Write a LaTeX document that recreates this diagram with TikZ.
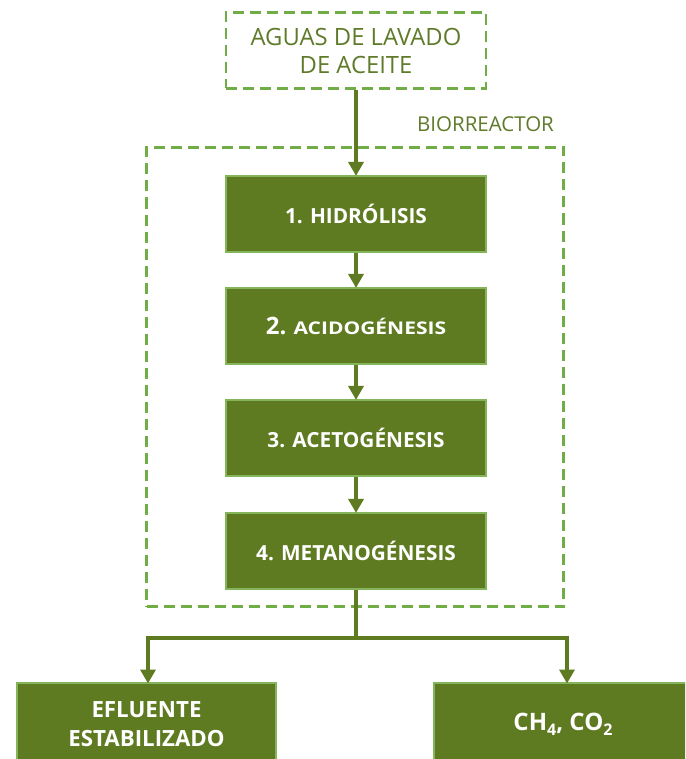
\documentclass[tikz,border=0pt]{standalone}
\usepackage{fontspec}
\setmainfont{Open Sans}
\usetikzlibrary{arrows.meta}
\definecolor{olive}{HTML}{5F7B22}
\definecolor{leaf}{HTML}{70AD47}
\definecolor{rim}{HTML}{84B55A}
\definecolor{ink}{HTML}{5F7B2A}
\tikzset{
  x=1pt, y=-1pt,
  outline/.style={draw=leaf, line width=2.5pt, dash pattern=on 11pt off 6pt},
  stage/.style={draw=rim, line width=1.2pt, fill=olive, text=white,
    minimum width=260pt, minimum height=76pt, inner sep=0pt,
    font=\fontsize{20.8}{28}\selectfont\bfseries, align=center},
  product/.style={stage, minimum height=82pt, font=\fontsize{22.3}{29}\selectfont\bfseries},
  flow/.style={draw=olive, line width=4.2pt,
    -{Triangle[width=15pt,length=14pt]}, shorten >=-0.5pt}
}
\newcommand{\sub}[1]{{\fontsize{16}{16}\selectfont\raisebox{-5pt}{#1}}}
\begin{document}
\begin{tikzpicture}
\clip (0,0) rectangle (685,759);
\fill[white] (0,0) rectangle (685,759);

% influent and reactor boundary
\node[outline, minimum width=260pt, minimum height=76pt, inner sep=0pt,
  text=ink, align=center, font=\fontsize{23.8}{28}\selectfont]
  (feed) at (356,50.5) {AGUAS DE LAVADO\\DE ACEITE};
\node[draw=leaf, line width=2.5pt, dash pattern=on 11pt off 6pt,
  minimum width=417pt, minimum height=459pt, inner sep=0pt]
  (reactor) at (355,377) {};
\node[text=ink, font=\fontsize{20.5}{24}\selectfont, anchor=base]
  (label) at (485.5,132) {BIORREACTOR};

% digestion stages
\node[stage] (s1) at (356,214) {1. HIDRÓLISIS};
\node[stage] (s2) at (356,326) {{\fontsize{24}{28}\selectfont 2.} \scalebox{1.2}[1]{\fontsize{17.5}{24}\selectfont ACIDOGÉNESIS}};
\node[stage] (s3) at (356,438) {3. ACETOGÉNESIS};
\node[stage] (s4) at (356,551) {4. METANOGÉNESIS};

% outputs
\node[product, minimum width=259pt] (eff) at (146.5,724) {EFLUENTE\\ESTABILIZADO};
\node[product, minimum width=258pt, font=\fontsize{24}{29}\selectfont\bfseries]
  (gas) at (563,724) {\raisebox{-5pt}{CH\sub{4}, CO\sub{2}}};

% connectors
\draw[flow] (feed.south) -- (s1.north);
\draw[flow] (s1.south) -- (s2.north);
\draw[flow] (s2.south) -- (s3.north);
\draw[flow] (s3.south) -- (s4.north);
\coordinate (split) at (356,638);
\coordinate (effin) at (148,683);
\coordinate (gasin) at (567,683);
\draw[draw=olive, line width=4.2pt] (s4.south) -- (split);
\draw[flow] (split) -| (effin);
\draw[flow] (split) -| (gasin);
\end{tikzpicture}
\end{document}
